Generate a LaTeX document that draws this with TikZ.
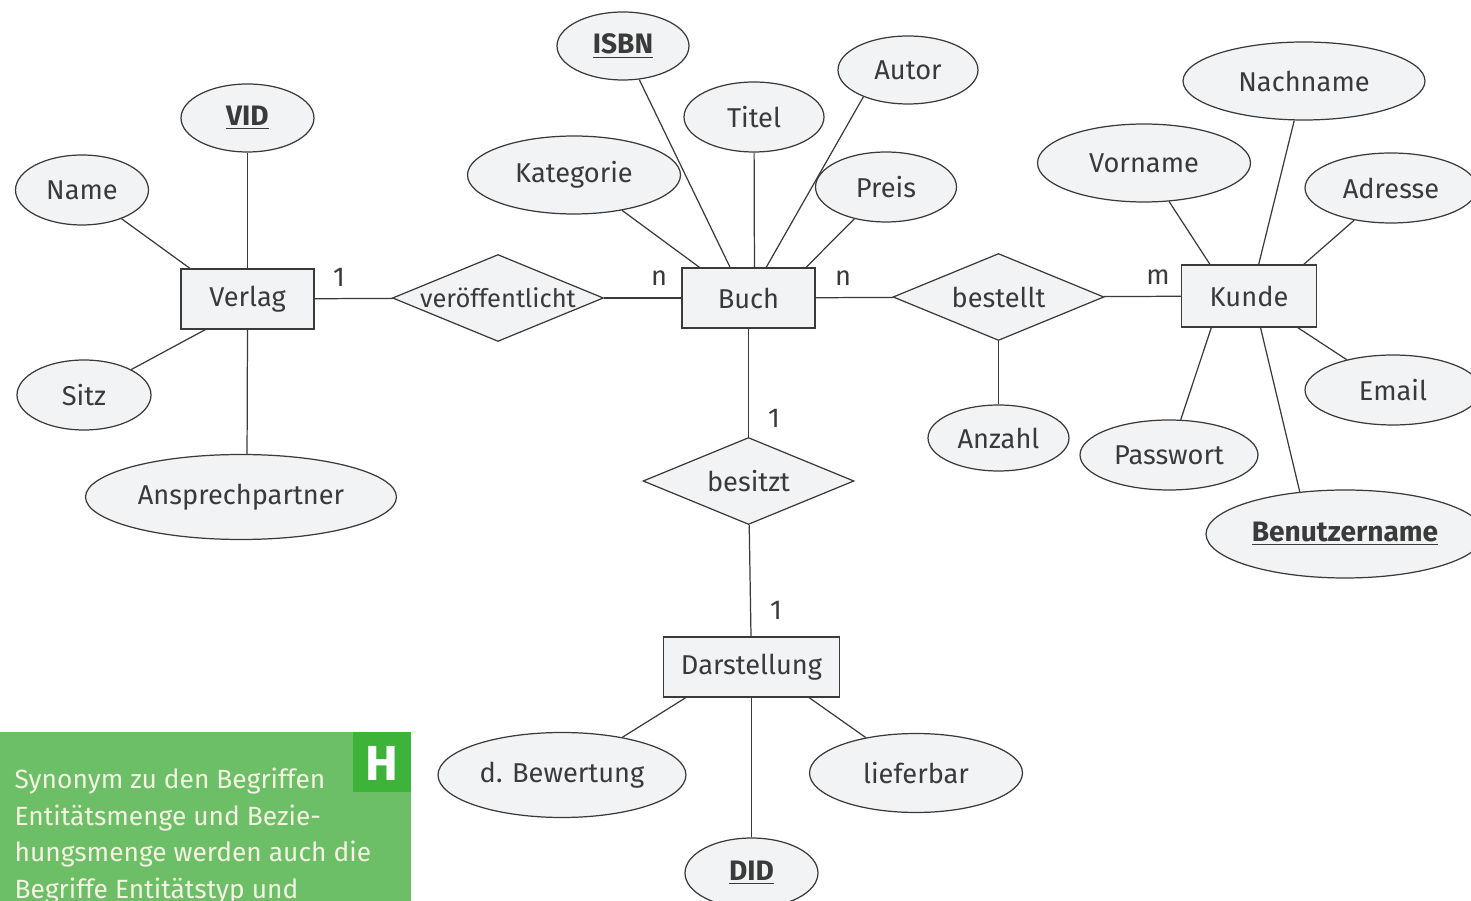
\documentclass[tikz,border=0pt]{standalone}
\usepackage{fontspec}
\setmainfont{Fira Sans}
\usetikzlibrary{shapes.geometric}
\definecolor{shapefill}{HTML}{F1F3F5}
\definecolor{linegray}{HTML}{3A3A3A}
\definecolor{boxgreen}{HTML}{6DBF67}
\definecolor{hgreen}{HTML}{3DB33A}
\definecolor{paletext}{HTML}{F4F2E2}
\tikzset{
  entity/.style={draw=linegray, fill=shapefill, rectangle, minimum width=2.66cm, minimum height=1.2cm, inner sep=0pt, text=linegray},
  attr/.style={draw=linegray, fill=shapefill, ellipse, inner sep=0pt, text=linegray},
  rel/.style={draw=linegray, fill=shapefill, diamond, minimum width=4.22cm, minimum height=1.74cm, inner xsep=-35pt, inner ysep=-5pt, text=linegray},
  keyattr/.style={attr, font=\fontsize{16}{18}\selectfont\bfseries},
  card/.style={text=linegray}
}

\begin{document}
\begin{tikzpicture}[x=0.02cm, y=-0.02cm, line width=0.7pt, font=\fontsize{15.5}{18}\selectfont]
\useasboundingbox (0,0) rectangle (1471,901);
\clip (0,0) rectangle (1471,901);

% entities and relationships
\node[entity] (verlag) at (247.5,299) {Verlag};
\node[entity] (buch) at (748.5,298) {Buch};
\node[entity, minimum width=2.7cm, minimum height=1.24cm] (kunde) at (1249,296) {Kunde};
\node[entity, minimum width=3.52cm] (darst) at (751.5,667) {Darstellung};
\node[rel, font=\fontsize{14.5}{17}\selectfont] (veroeff) at (498,298) {veröffentlicht};
\node[rel] (bestellt) at (998.5,297) {bestellt};
\node[rel] (besitzt) at (748.5,481) {besitzt};

% attributes
\node[keyattr, minimum width=2.66cm, minimum height=1.36cm] (vid) at (247.5,118) {\underline{VID}};
\node[attr, minimum width=2.66cm, minimum height=1.4cm] (name) at (82,190) {Name};
\node[attr, minimum width=2.68cm, minimum height=1.4cm] (sitz) at (84,395) {Sitz};
\node[attr, minimum width=6.22cm, minimum height=1.7cm] (ansp) at (241,497) {Ansprechpartner};
\node[keyattr, minimum width=2.64cm, minimum height=1.36cm] (isbn) at (623,46) {\underline{ISBN}};
\node[attr, minimum width=4.26cm, minimum height=1.56cm] (kat) at (574,175) {Kategorie};
\node[attr, minimum width=2.8cm, minimum height=1.4cm] (titel) at (754,117) {Titel};
\node[attr, minimum width=2.8cm, minimum height=1.36cm] (autor) at (908,70) {Autor};
\node[attr, minimum width=2.82cm, minimum height=1.4cm] (preis) at (886,187) {Preis};
\node[attr, minimum width=4.26cm, minimum height=1.56cm] (vorname) at (1144,163) {Vorname};
\node[attr, minimum width=4.84cm, minimum height=1.56cm] (nachname) at (1304,81) {Nachname};
\node[attr, minimum width=3.44cm, minimum height=1.4cm] (adresse) at (1391,188) {Adresse};
\node[attr, minimum width=3.52cm, minimum height=1.4cm] (email) at (1393,390) {Email};
\node[attr, minimum width=3.56cm, minimum height=1.4cm] (passwort) at (1169,455) {Passwort};
\node[keyattr, minimum width=5.56cm, minimum height=1.76cm] (benutzer) at (1345,534) {\underline{Benutzername}};
\node[attr, minimum width=2.82cm, minimum height=1.32cm] (anzahl) at (998.5,438) {Anzahl};
\node[attr, minimum width=4.96cm, minimum height=1.7cm] (bewertung) at (562,775) {d. Bewertung};
\node[attr, minimum width=4.26cm, minimum height=1.58cm] (lieferbar) at (916,773) {lieferbar};
\node[keyattr, minimum width=2.66cm, minimum height=1.4cm] (did) at (751.5,873) {\underline{DID}};

% cardinalities
\node[card] (c1) at (339,277) {1};
\node[card] (c2) at (659,278) {n};
\node[card] (c3) at (843,278) {n};
\node[card] (c4) at (1158,277) {m};
\node[card] (c5) at (774,418) {1};
\node[card] (c6) at (776,610) {1};

\foreach \a/\b in {name/verlag.152, vid/verlag, sitz/verlag.216, ansp.82/verlag.south,
  isbn/buch.121, kat/buch.148, titel/buch.79, autor.211/buch.60, preis/buch.28,
  vorname/kunde.141, nachname/kunde.73, adresse/kunde.30, email/kunde.327,
  benutzer.137/kunde.290, passwort/kunde.220, anzahl/bestellt,
  bewertung/darst.205, lieferbar/darst.332, did/darst,
  verlag/veroeff, veroeff/buch, buch/bestellt, bestellt/kunde,
  buch/besitzt, besitzt/darst}
{
  \draw[linegray] (\a) -- (\b);
}

% side note
\fill[boxgreen] (0,732) rectangle (411,905);
\fill[hgreen] (353,732) rectangle (411,792);
\node[text=white, font=\fontsize{28}{30}\selectfont\bfseries] (hmark) at (382,763) {H};
\node[anchor=north west, align=left, inner sep=0pt, text=paletext, font=\fontsize{15}{21}\selectfont] (hinweis) at (14,767)
  {Synonym zu den Begriffen\\Entitätsmenge und Bezie-\\hungsmenge werden auch die\\Begriffe Entitätstyp und};
\end{tikzpicture}
\end{document}
